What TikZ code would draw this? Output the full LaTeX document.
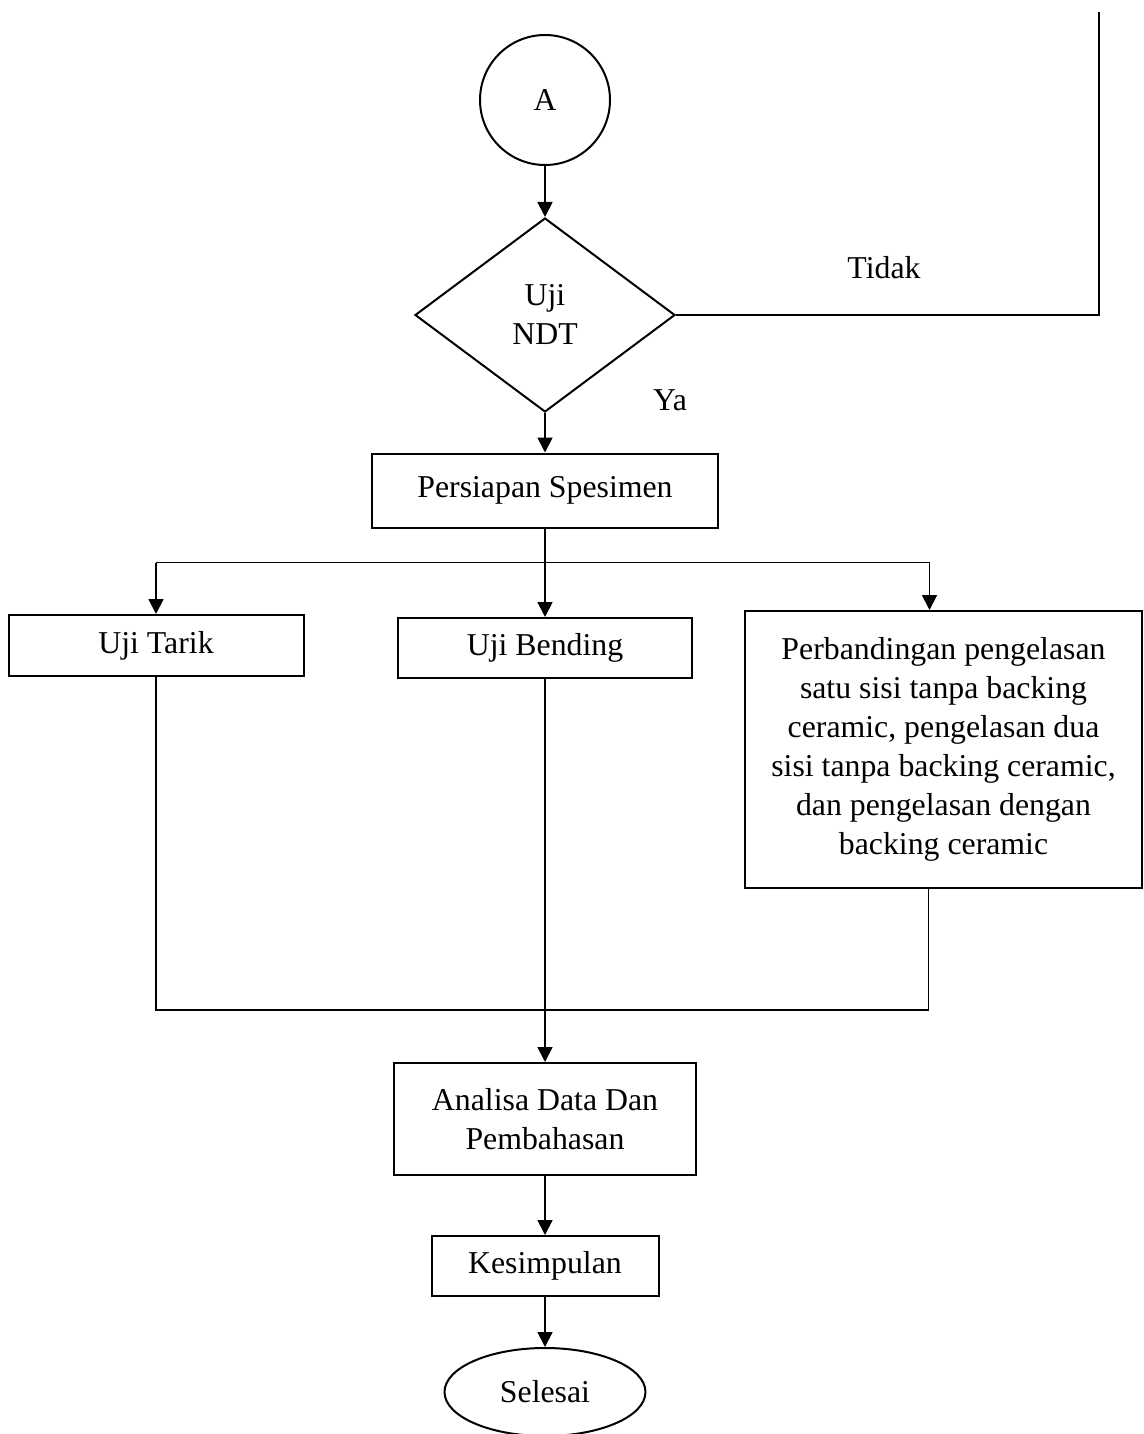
\documentclass[tikz,border=0pt]{standalone}
\usepackage{fontspec}
\setmainfont{Liberation Serif}
\usetikzlibrary{shapes.geometric, arrows.meta, positioning}
\tikzstyle{process} = [rectangle, inner sep=0pt, align=center, draw=black, line width=1pt, fill=white]
\tikzstyle{decision} = [diamond, inner sep=0pt, align=center, draw=black, line width=1pt, minimum width=130pt, minimum height=97pt]
\tikzstyle{connector} = [circle, inner sep=0pt, draw=black, line width=1pt, minimum size=65pt]
\tikzstyle{terminal} = [ellipse, inner sep=0pt, draw=black, line width=1pt, minimum width=100.5pt, minimum height=44pt]
\tikzstyle{note} = [inner sep=0pt]
\tikzstyle{arrow} = [line width=0.9pt, ->, >={Triangle[length=7.5pt, width=7.5pt]}]
\tikzstyle{link} = [line width=0.9pt]

\begin{document}
\begin{tikzpicture}[x=0.5pt, y=-0.5pt, font=\fontsize{15.9}{19.5}\selectfont]
    \useasboundingbox (0,0) rectangle (1144,1434);

    \node (conA) [connector] at (545,100) {A};
    \node (ndt) [decision, node distance=107.5pt, below of=conA] {Uji\\NDT};
    \node (pers) [process, minimum width=173pt, minimum height=37pt, node distance=87.75pt, below of=ndt] {Persiapan Spesimen};
    \node (bending) [process, minimum width=147pt, minimum height=30pt, node distance=78.75pt, below of=pers] {Uji Bending};
    \node (tarik) [process, minimum width=147.5pt, minimum height=30.5pt, node distance=194.5pt, left of=bending, yshift=1.25pt] {Uji Tarik};
    \node (perb) [process, minimum width=198.5pt, minimum height=138.5pt, node distance=199.25pt, right of=bending, yshift=-50.75pt] {Perbandingan pengelasan\\satu sisi tanpa backing\\ceramic, pengelasan dua\\sisi tanpa backing ceramic,\\dan pengelasan dengan\\backing ceramic};
    \node (analisa) [process, minimum width=151pt, minimum height=56pt, node distance=314.25pt, below of=pers] {Analisa Data Dan\\Pembahasan};
    \node (kes) [process, minimum width=113.5pt, minimum height=30pt, node distance=73.5pt, below of=analisa] {Kesimpulan};
    \node (selesai) [terminal, node distance=63pt, below of=kes] {Selesai};

    \node (tidak) [note, node distance=169.5pt, right of=ndt, yshift=23.5pt] {Tidak};
    \node (ya) [note, node distance=62.5pt, right of=ndt, yshift=-42.5pt] {Ya};

    \coordinate (noback) at (1099,12);
    \coordinate [below=17pt of pers] (split);
    \coordinate (splitL) at (split -| tarik);
    \coordinate (splitR) at ([xshift=-7pt]split -| perb);
    \coordinate [above=26pt of analisa] (join);
    \coordinate (perbout) at ([xshift=-7.5pt]perb.south);

    \draw [arrow] (conA) -- (ndt);
    \draw [link] (ndt.east) -| (noback);
    \draw [arrow] (ndt) -- (pers);
    \draw [link] (pers) -- (split);
    \draw [link] (splitL) -- (splitR);
    \draw [arrow] (splitL) -- (tarik);
    \draw [arrow] (split) -- (bending);
    \draw [arrow] (splitR) -- (splitR |- perb.north);
    \draw [link] (tarik) -- (tarik |- join) -- (perbout |- join) -- (perbout);
    \draw [link] (bending) -- (bending |- join);
    \draw [arrow] (join) -- (analisa);
    \draw [arrow] (analisa) -- (kes);
    \draw [arrow] (kes) -- (selesai);
\end{tikzpicture}
\end{document}
